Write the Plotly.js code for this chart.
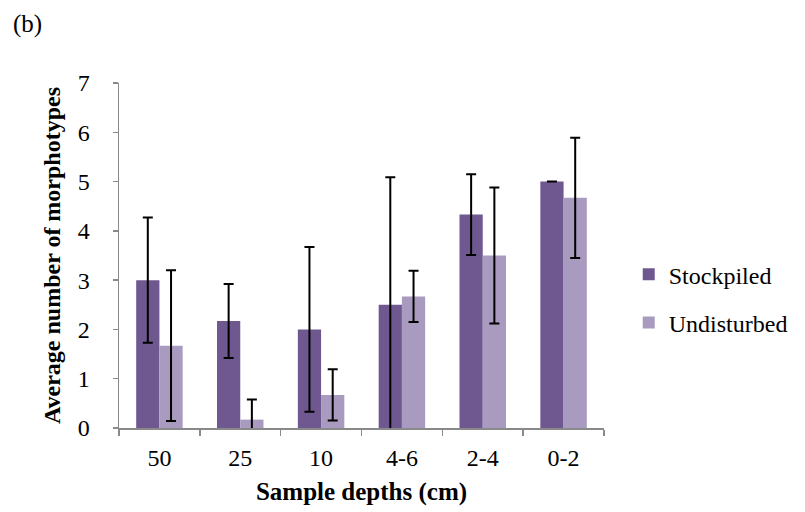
<!DOCTYPE html>
<html>
<head>
<meta charset="utf-8">
<script src="https://cdn.plot.ly/plotly-3.0.1.min.js"></script>
<style>html,body{margin:0;padding:0;background:#fff;}#chart{width:805px;height:512px;}</style>
</head>
<body>
<div id="chart"></div>
<script>
const categories = ["50", "25", "10", "4-6", "2-4", "0-2"];
const stockpiled = [3.0, 2.17, 2.0, 2.5, 4.33, 5.0];
const stockpiledErr = [1.27, 0.75, 1.67, 2.59, 0.82, 0.0];
const undisturbed = [1.67, 0.17, 0.67, 2.67, 3.5, 4.67];
const undisturbedErr = [1.53, 0.41, 0.52, 0.52, 1.38, 1.22];
const yTicks = [0, 1, 2, 3, 4, 5, 6, 7];

const serif = "Liberation Serif";
const errStyle = {type: "data", visible: true, color: "#000", thickness: 2, width: 5};

const traces = [
  {type: "bar", name: "Stockpiled", x: categories, y: stockpiled, legendgroup: "a",
   marker: {color: "#6f5890"},
   error_y: Object.assign({array: stockpiledErr}, errStyle)},
  {type: "bar", name: "Undisturbed", x: categories, y: undisturbed, legendgroup: "b",
   marker: {color: "#a99bbf"},
   error_y: Object.assign({array: undisturbedErr}, errStyle)}
];

const layout = {
  width: 805, height: 512,
  margin: {l: 119, r: 196, t: 83, b: 84},
  paper_bgcolor: "#fff", plot_bgcolor: "#fff",
  font: {family: serif, size: 24, color: "#000"},
  barmode: "group", bargap: 0.425, bargroupgap: 0,
  showlegend: true,
  legend: {x: 1.051, xanchor: "left", y: 0.375, yanchor: "middle",
           traceorder: "grouped", tracegroupgap: 14,
           font: {family: serif, size: 24, color: "#000"}},
  xaxis: {
    type: "category", showline: true, linecolor: "#898989", linewidth: 1.5,
    ticks: "outside", tickson: "boundaries", ticklen: 6, tickcolor: "#898989", tickwidth: 1.5,
    ticklabelstandoff: 8,
    showgrid: false, zeroline: false,
    tickfont: {family: serif, size: 24, color: "#000"},
    title: {text: "<b>Sample depths (cm)</b>", font: {family: serif, size: 25, color: "#000"}, standoff: 12}
  },
  yaxis: {
    range: [0, 7], tickvals: yTicks, showline: true, linecolor: "#898989", linewidth: 1.5,
    ticks: "outside", ticklen: 5, tickcolor: "#898989", tickwidth: 1.5,
    ticklabelstandoff: 18,
    showgrid: false, zeroline: false,
    tickfont: {family: serif, size: 24, color: "#000"},
    title: {text: "<b>Average number of morphotypes</b>", font: {family: serif, size: 24, color: "#000"}, standoff: 10}
  },
  annotations: [
    {text: "(b)", xref: "paper", yref: "paper", x: -0.222, y: 1.17, xanchor: "left", yanchor: "middle",
     showarrow: false, font: {family: serif, size: 25, color: "#000"}}
  ]
};

Plotly.newPlot("chart", traces, layout, {displayModeBar: false, staticPlot: true});
</script>
</body>
</html>
